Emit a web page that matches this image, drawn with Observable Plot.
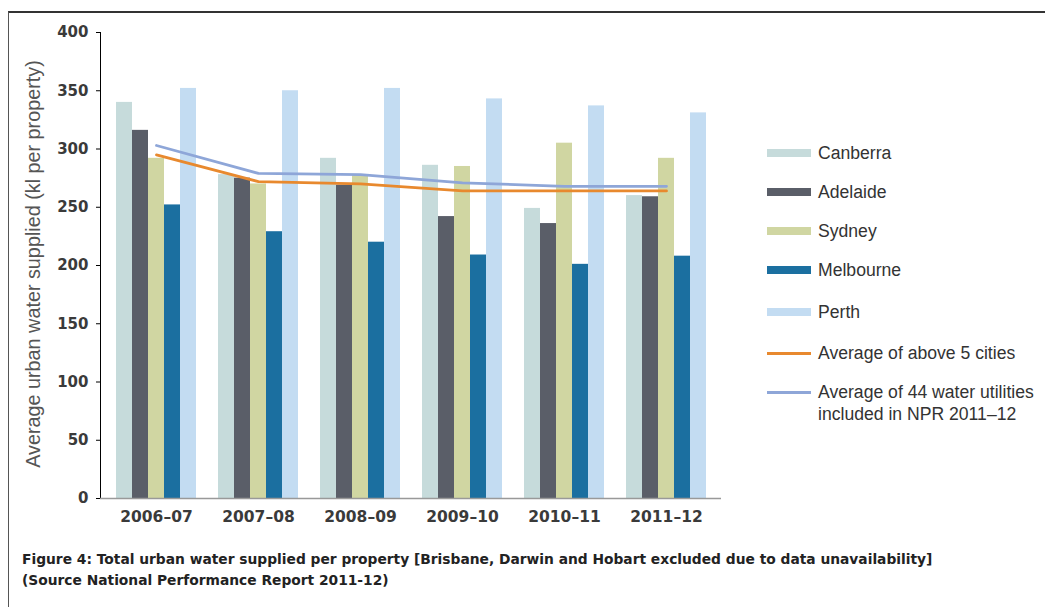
<!DOCTYPE html>
<html>
<head>
<meta charset="utf-8">
<script src="https://cdn.jsdelivr.net/npm/d3@7"></script>
<script src="https://cdn.jsdelivr.net/npm/@observablehq/plot@0.6"></script>
<style>
  html, body { margin: 0; padding: 0; background: #fff; overflow: hidden; }
  #wrap { position: relative; width: 1045px; height: 607px; font-family: "Liberation Sans", Arial, sans-serif; }
  #frame { position: absolute; left: 8px; top: 11px; width: 1100px; height: 700px; border-top: 2px solid #333; border-left: 1px solid #555; }
  .layer { position: absolute; left: 0; top: 0; }
  .layer svg text { font-family: "DejaVu Sans", sans-serif; font-weight: bold; fill: #3a3a3a; }
  #ylabel { position: absolute; left: 33px; top: 264px; transform: translate(-50%, -50%) rotate(-90deg); white-space: nowrap; font-size: 19.8px; color: #555; }
  #legend { position: absolute; left: 767px; top: 0; font-size: 17.6px; color: #333; }
  .row { position: absolute; left: 0; white-space: nowrap; }
  .sw { position: absolute; left: 0; width: 44px; }
  .lab { position: absolute; left: 51px; line-height: 22px; }
  #caption { position: absolute; left: 22px; top: 549px; font-family: "DejaVu Sans", sans-serif; font-weight: bold; font-size: 13.8px; color: #222; line-height: 21px; }
</style>
</head>
<body>
<div id="wrap">
  <div id="frame"></div>
  <div id="bars" class="layer"></div>
  <div id="lines" class="layer"></div>
  <div id="ylabel">Average urban water supplied (kl per property)</div>
  <div id="legend"></div>
  <div id="caption">Figure 4: Total urban water supplied per property [Brisbane, Darwin and Hobart excluded due to data unavailability]<br>(Source National Performance Report 2011-12)</div>
</div>
<script>
// ---- data ----
const years = ["2006–07", "2007–08", "2008–09", "2009–10", "2010–11", "2011–12"];
const cities = ["Canberra", "Adelaide", "Sydney", "Melbourne", "Perth"];
const canberra  = [340, 278, 292, 286, 249, 260];
const adelaide  = [316, 275, 269, 242, 236, 259];
const sydney    = [292, 270, 278, 285, 305, 292];
const melbourne = [252, 229, 220, 209, 201, 208];
const perth     = [352, 350, 352, 343, 337, 331];
const avg5      = [295, 272, 270, 264, 264, 264];
const avg44     = [303, 279, 278, 271, 268, 268];
const lineNames = ["Average of above 5 cities", "Average of 44 water utilities included in NPR 2011–12"];
const yTicks = [0, 50, 100, 150, 200, 250, 300, 350, 400];

// ---- styles ----
const cityColors = ["#c6dbdb", "#5a5e68", "#d0d6a2", "#1b6fa0", "#c3dcf2"];
const lineColors = ["#e8892e", "#8ea6d8"];

const seriesByCity = [canberra, adelaide, sydney, melbourne, perth];
const barData = [];
years.forEach((yr, i) => cities.forEach((c, j) => barData.push({year: yr, city: c, value: seriesByCity[j][i]})));
const lineData = [];
[avg5, avg44].forEach((arr, k) => years.forEach((yr, i) => lineData.push({year: yr, series: lineNames[k], value: arr[i]})));

const W = 740, H = 540, mL = 100, mR = 19, mT = 32, mB = 42;
const pIn = 0.18, pOut = 0.12;

const bars = Plot.plot({
  width: W, height: H,
  marginLeft: mL, marginRight: mR, marginTop: mT, marginBottom: mB,
  style: {fontSize: "15.5px", background: "transparent"},
  fx: {domain: years, paddingInner: pIn, paddingOuter: pOut, label: null, tickSize: 0, tickPadding: 12},
  x: {domain: cities, paddingInner: 0.02, paddingOuter: 0, axis: null},
  y: {domain: [0, 400], axis: null},
  color: {domain: cities, range: cityColors},
  facet: {marginLeft: 0, marginRight: 0},
  marks: [
    Plot.barY(barData, {fx: "year", x: "city", y: "value", fill: "city"})
  ]
});
document.getElementById("bars").appendChild(bars);

const lines = Plot.plot({
  width: W, height: H,
  marginLeft: mL, marginRight: mR, marginTop: mT, marginBottom: mB,
  style: {fontSize: "15px", background: "transparent"},
  x: {type: "point", domain: years, padding: pOut + (1 - pIn) / 2, axis: null},
  y: {domain: [0, 400], ticks: yTicks, tickSize: 4, tickPadding: 8, label: null, line: true},
  color: {domain: lineNames, range: lineColors},
  marks: [
    Plot.ruleY([0], {stroke: "#999", strokeWidth: 1.5}),
    Plot.line(lineData, {x: "year", y: "value", z: "series", stroke: "series", strokeWidth: 2.8})
  ]
});
document.getElementById("lines").appendChild(lines);

// ---- legend ----
const legend = document.getElementById("legend");
const rows = [
  {name: cities[0], color: cityColors[0], h: 8, y: 153},
  {name: cities[1], color: cityColors[1], h: 8, y: 192},
  {name: cities[2], color: cityColors[2], h: 8, y: 231},
  {name: cities[3], color: cityColors[3], h: 8, y: 270},
  {name: cities[4], color: cityColors[4], h: 8, y: 312},
  {name: lineNames[0], color: lineColors[0], h: 3, y: 353},
  {name: "Average of 44 water utilities<br>included in NPR 2011–12", color: lineColors[1], h: 3, y: 392}
];
rows.forEach(r => {
  const row = document.createElement("div");
  row.className = "row";
  row.style.top = r.y + "px";
  row.innerHTML = `<div class="sw" style="top:${-r.h / 2}px;height:${r.h}px;background:${r.color}"></div><div class="lab" style="top:-11px">${r.name}</div>`;
  legend.appendChild(row);
});
</script>
</body>
</html>
